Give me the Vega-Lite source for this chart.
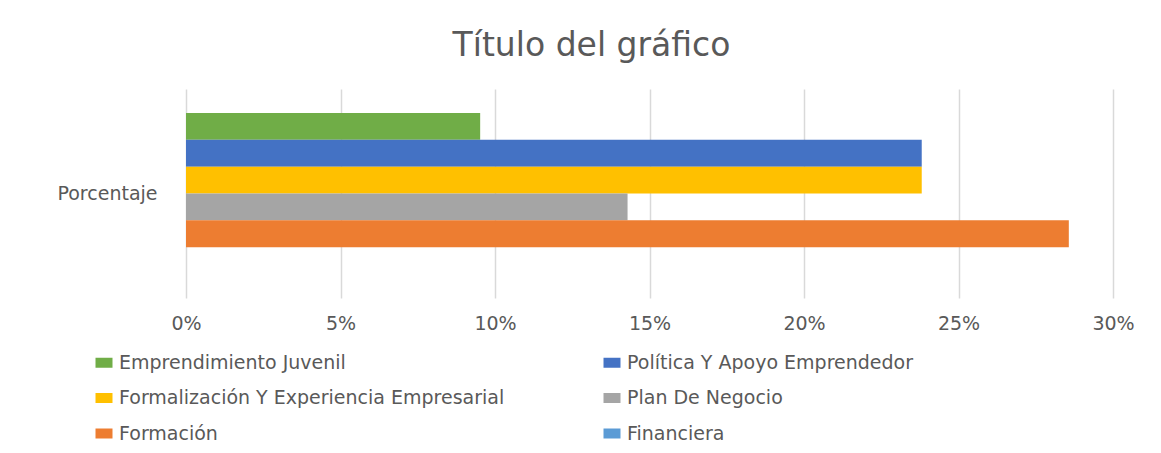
{
  "$schema": "https://vega.github.io/schema/vega-lite/v6.json",
  "autosize": {"type": "none"},
  "width": 927,
  "height": 209,
  "padding": {"left": 186, "top": 89, "right": 48, "bottom": 155},
  "background": "white",
  "title": {
    "text": "Título del gráfico",
    "font": "DejaVu Sans",
    "fontSize": 33,
    "fontWeight": "normal",
    "color": "#595959",
    "anchor": "middle",
    "dx": -58,
    "baseline": "alphabetic",
    "offset": 0
  },
  "data": {
    "values": [
      {"cat": "Porcentaje", "serie": "Emprendimiento Juvenil", "valor": 0.0952},
      {"cat": "Porcentaje", "serie": "Política Y Apoyo Emprendedor", "valor": 0.2381},
      {"cat": "Porcentaje", "serie": "Formalización Y Experiencia Empresarial", "valor": 0.2381},
      {"cat": "Porcentaje", "serie": "Plan De Negocio", "valor": 0.1429},
      {"cat": "Porcentaje", "serie": "Formación", "valor": 0.2857},
      {"cat": "Porcentaje", "serie": "Financiera", "valor": 0}
    ]
  },
  "mark": {"type": "bar", "cornerRadius": 0},
  "encoding": {
    "y": {
      "field": "cat",
      "type": "nominal",
      "title": null,
      "scale": {"paddingOuter": 0.149, "paddingInner": 0},
      "axis": {
        "domain": false,
        "ticks": false,
        "labelPadding": 29,
        "labelFont": "DejaVu Sans",
        "labelFontSize": 19,
        "labelColor": "#595959"
      }
    },
    "yOffset": {
      "field": "serie",
      "type": "nominal",
      "sort": null,
      "scale": {"paddingInner": 0, "paddingOuter": 0}
    },
    "x": {
      "field": "valor",
      "type": "quantitative",
      "title": null,
      "scale": {"domain": [0, 0.3], "nice": false},
      "axis": {
        "values": [0, 0.05, 0.1, 0.15, 0.2, 0.25, 0.3],
        "format": ".0%",
        "domain": false,
        "ticks": false,
        "grid": true,
        "gridColor": "#D9D9D9",
        "gridWidth": 1.5,
        "labelFlush": false,
        "labelPadding": 16,
        "labelFont": "DejaVu Sans",
        "labelFontSize": 19,
        "labelColor": "#595959"
      }
    },
    "color": {
      "field": "serie",
      "type": "nominal",
      "sort": null,
      "scale": {
        "domain": ["Emprendimiento Juvenil", "Política Y Apoyo Emprendedor", "Formalización Y Experiencia Empresarial", "Plan De Negocio", "Formación", "Financiera"],
        "range": ["#70AD47", "#4472C4", "#FFC000", "#A5A5A5", "#ED7D31", "#5B9BD5"]
      },
      "legend": {
        "title": null,
        "orient": "none",
        "legendX": -91.5,
        "legendY": 264,
        "direction": "horizontal",
        "columns": 2,
        "padding": 0,
        "columnPadding": 98,
        "rowPadding": 15.5,
        "symbolType": "M-1.7,-1L1.7,-1L1.7,1L-1.7,1Z",
        "symbolSize": 100,
        "symbolStrokeWidth": 0,
        "labelOffset": 5.5,
        "labelFont": "DejaVu Sans",
        "labelFontSize": 19,
        "labelColor": "#595959",
        "labelLimit": 0
      }
    }
  },
  "config": {
    "view": {"stroke": null}
  }
}
